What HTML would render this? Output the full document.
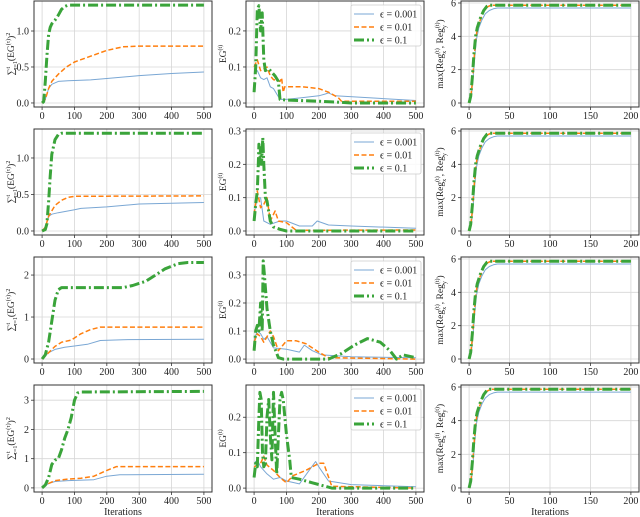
<!DOCTYPE html>
<html><head><meta charset="utf-8">
<style>
html,body{margin:0;padding:0;background:#fff;}
svg{display:block;font-family:"Liberation Serif",serif;}
</style></head>
<body>
<svg id="fig" width="640" height="517" viewBox="0 0 640 517" xmlns="http://www.w3.org/2000/svg"></svg>
<script>
// ---- data (x, y pairs) ----
const cumR1Green=[[0,0],[5,0.02],[10,0.3],[15,0.65],[20,0.95],[25,1.05],[30,1.1],[40,1.15],[50,1.22],[60,1.3],[70,1.34],[80,1.36],[500,1.36]];
const cumR1Orange=[[0,0],[10,0.05],[20,0.2],[30,0.3],[50,0.4],[75,0.5],[100,0.57],[150,0.65],[200,0.73],[250,0.78],[300,0.79],[500,0.79]];
const cumR1Blue=[[0,0],[10,0.05],[20,0.2],[30,0.26],[50,0.3],[80,0.31],[150,0.32],[200,0.34],[300,0.38],[400,0.41],[500,0.43]];
const egR1Green=[[0,0.03],[5,0.1],[10,0.26],[15,0.27],[20,0.2],[25,0.25],[30,0.12],[35,0.09],[45,0.095],[55,0.085],[65,0.075],[75,0.06],[80,0.01],[100,0.008],[200,0.005],[250,0.003],[300,0],[500,0]];
const egR1Orange=[[0,0.1],[10,0.12],[20,0.09],[30,0.095],[40,0.1],[50,0.075],[60,0.065],[80,0.06],[85,0.07],[90,0.03],[95,0.045],[150,0.045],[200,0.04],[230,0.03],[260,0.015],[270,0.005],[500,0.005]];
const egR1Blue=[[0,0.08],[10,0.09],[20,0.07],[30,0.065],[40,0.07],[50,0.045],[60,0.04],[80,0.01],[100,0.01],[150,0.015],[200,0.02],[220,0.025],[230,0.028],[250,0.02],[500,0.007]];

const cumR2Green=[[0,0],[10,0.02],[15,0.1],[20,0.4],[25,0.75],[30,1.05],[40,1.25],[50,1.32],[60,1.34],[500,1.34]];
const cumR2Orange=[[0,0],[10,0.05],[20,0.2],[40,0.35],[60,0.42],[80,0.46],[100,0.475],[500,0.48]];
const cumR2Blue=[[0,0],[10,0.05],[20,0.2],[30,0.23],[50,0.25],[100,0.29],[120,0.31],[200,0.33],[300,0.37],[400,0.38],[500,0.39]];
const egR2Green=[[0,0.03],[5,0.08],[10,0.12],[13,0.2],[15,0.26],[17,0.2],[20,0.25],[23,0.2],[27,0.28],[30,0.2],[35,0.1],[40,0.09],[50,0.03],[60,0.012],[80,0.005],[100,0],[500,0]];
const egR2Orange=[[0,0.05],[10,0.12],[20,0.07],[30,0.08],[40,0.1],[50,0.03],[65,0.06],[75,0.03],[100,0.025],[130,0.002],[500,0.003]];
const egR2Blue=[[0,0.05],[10,0.1],[20,0.1],[30,0.03],[50,0.02],[80,0.03],[100,0.03],[140,0.015],[180,0.015],[195,0.03],[230,0.018],[300,0.015],[500,0.008]];

const cumR3Green=[[0,0],[10,0.1],[20,0.4],[30,0.9],[40,1.4],[50,1.65],[60,1.7],[250,1.7],[280,1.75],[320,1.85],[350,2.0],[380,2.15],[420,2.27],[450,2.3],[500,2.3]];
const cumR3Orange=[[0,0],[20,0.15],[40,0.3],[60,0.4],[90,0.45],[120,0.6],[150,0.7],[180,0.76],[500,0.76]];
const cumR3Blue=[[0,0],[20,0.15],[40,0.23],[70,0.28],[100,0.31],[140,0.35],[180,0.44],[250,0.46],[500,0.47]];
const egR3Green=[[0,0.03],[5,0.1],[10,0.12],[15,0.1],[20,0.2],[25,0.1],[28,0.35],[32,0.3],[40,0.18],[50,0.1],[60,0.05],[75,0.005],[90,0],[230,0],[270,0.02],[310,0.05],[350,0.073],[390,0.06],[420,0.03],[440,0],[460,0.015],[500,0.005]];
const egR3Orange=[[0,0.06],[10,0.09],[20,0.08],[30,0.06],[50,0.1],[60,0.08],[75,0.03],[100,0.065],[130,0.065],[160,0.055],[200,0.025],[230,0.005],[500,0]];
const egR3Blue=[[0,0.07],[10,0.1],[20,0.09],[30,0.07],[40,0.08],[60,0.04],[100,0.035],[140,0.025],[155,0.05],[180,0.03],[210,0.015],[300,0.008],[500,0.005]];

const cumR4Green=[[0,0],[10,0.1],[20,0.35],[30,0.8],[40,0.95],[50,1.0],[60,1.3],[70,1.7],[80,2.0],[90,2.4],[100,3.0],[110,3.25],[120,3.28],[500,3.3]];
const cumR4Orange=[[0,0],[20,0.15],[40,0.25],[80,0.3],[120,0.33],[160,0.4],[200,0.6],[230,0.73],[500,0.73]];
const cumR4Blue=[[0,0],[20,0.15],[40,0.22],[80,0.25],[160,0.28],[200,0.4],[240,0.45],[500,0.47]];
const egR4Green=[[0,0.03],[5,0.07],[10,0.06],[15,0.2],[18,0.27],[22,0.25],[26,0.1],[30,0.06],[35,0.07],[40,0.2],[45,0.25],[50,0.15],[55,0.08],[60,0.27],[65,0.15],[70,0.04],[80,0.25],[85,0.27],[90,0.25],[100,0.15],[110,0.08],[115,0.03],[140,0.025],[180,0.015],[220,0.005],[240,0],[500,0]];
const egR4Orange=[[0,0.06],[10,0.065],[20,0.07],[30,0.09],[40,0.065],[60,0.05],[80,0.03],[100,0.015],[120,0.035],[160,0.05],[200,0.07],[215,0.07],[240,0.005],[500,0]];
const egR4Blue=[[0,0.07],[10,0.08],[20,0.06],[40,0.04],[60,0.025],[80,0.03],[100,0.02],[140,0.012],[170,0.05],[190,0.075],[200,0.06],[230,0.02],[300,0.01],[500,0.004]];

const regBlue=[[0,0],[3,0.5],[5,1.5],[7,2.8],[9,3.8],[12,4.5],[16,5.0],[20,5.35],[25,5.55],[30,5.65],[35,5.7],[200,5.7]];
const regOrange=[[0,0],[2,0.3],[4,1.2],[6,2.5],[8,3.8],[10,4.4],[14,5.0],[18,5.5],[22,5.75],[27,5.87],[200,5.87]];
const regGreen=[[0,0],[2,0.4],[4,1.5],[6,2.9],[8,4.0],[10,4.5],[14,5.1],[18,5.55],[22,5.8],[26,5.87],[200,5.87]];

const cumTicksR1=[0,0.5,1.0], cumTickLabelsR1=["0.0","0.5","1.0"];
const cumTicksR3=[0,1,2], cumTicksR4=[0,1,2,3];
const egTicks3=[0,0.1,0.2], egTicks4=[0,0.1,0.2,0.3];
const regTicks=[0,2,4,6];
const iterTicks500=[0,100,200,300,400,500];
const iterTicks200=[0,50,100,150,200];
const legendLabels=["\u03f5 = 0.001","\u03f5 = 0.01","\u03f5 = 0.1"];

// ---- layout ----
const NS="http://www.w3.org/2000/svg";
const svg=document.getElementById('fig');
const cols=[{l:34,r:212},{l:246,r:424},{l:461,r:639}];
const rows=[{t:1,b:107},{t:129,b:235},{t:257,b:363},{t:385,b:492}];
const styles={
 blue:{stroke:"#7aa7d4",w:1,dash:""},
 orange:{stroke:"#ff7f0e",w:1.5,dash:"5,2.5"},
 green:{stroke:"#3aa43a",w:3,dash:"10,3,2,3"}
};
function el(tag,attrs,parent){const e=document.createElementNS(NS,tag);for(const k in attrs)e.setAttribute(k,attrs[k]);(parent||svg).appendChild(e);return e;}

function panel(ri,ci,yd,xd,yt,ytl,xt,series,ylabelFn,name,legend){
 const c=cols[ci],r=rows[ri];
 const g=el('g',{});
 
 
 const sx=v=>c.l+(v-xd[0])/(xd[1]-xd[0])*(c.r-c.l);
 const sy=v=>r.b-(v-yd[0])/(yd[1]-yd[0])*(r.b-r.t);
 xt.forEach(v=>{const l=el('line',{x1:sx(v),x2:sx(v),y1:r.t,y2:r.b,stroke:"#d6d6d6","stroke-width":0.8},g);
  });
 yt.forEach(v=>{const l=el('line',{x1:c.l,x2:c.r,y1:sy(v),y2:sy(v),stroke:"#d6d6d6","stroke-width":0.8},g);
  });
 series.forEach(s=>{
  const st=styles[s.c];
  const d=s.d.map((p,i)=>(i?'L':'M')+sx(p[0]).toFixed(1)+','+sy(p[1]).toFixed(1)).join(' ');
  const p=el('path',{d:d,fill:"none",stroke:st.stroke,"stroke-width":st.w,"stroke-dasharray":st.dash,"stroke-linejoin":"round"},g);
  
  
 });
 const f=el('rect',{x:c.l,y:r.t,width:c.r-c.l,height:r.b-r.t,fill:"none",stroke:"#333","stroke-width":1},g);
 
 xt.forEach(v=>{el('line',{x1:sx(v),x2:sx(v),y1:r.b,y2:r.b+3,stroke:"#333","stroke-width":0.8},g);
  const t=el('text',{x:sx(v),y:r.b+12,"font-size":10,"text-anchor":"middle",fill:"#222"},g);t.textContent=v;
  });
 yt.forEach((v,i)=>{el('line',{x1:c.l-3,x2:c.l,y1:sy(v),y2:sy(v),stroke:"#333","stroke-width":0.8},g);
  const t=el('text',{x:c.l-5,y:sy(v)+3.5,"font-size":10,"text-anchor":"end",fill:"#222"},g);t.textContent=ytl[i];
  });
 ylabelFn(g,c,r);
 if(legend){
  const lg=el('g',{},g);
  
  el('rect',{x:c.r-73,y:r.t+4,width:70,height:41,rx:2,fill:"#fff","fill-opacity":0.85,stroke:"#ccc","stroke-width":0.8},lg);
  ['blue','orange','green'].forEach((k,i)=>{
   const st=styles[k],yy=r.t+13+i*13;
   const ln=el('line',{x1:c.r-70,x2:c.r-50,y1:yy,y2:yy,stroke:st.stroke,"stroke-width":st.w,"stroke-dasharray":st.dash},lg);
   
   const t=el('text',{x:c.r-44,y:yy+3.5,"font-size":10,fill:"#222"},lg);t.textContent=legendLabels[i];
   
  });
 }
 if(ri===3){const t=el('text',{x:(c.l+c.r)/2,y:515,"font-size":10,"text-anchor":"middle",fill:"#222"},g);t.textContent="Iterations";
  }
}
function ylab(g,x,y,html,name){
 const t=el('text',{x:0,y:0,"font-size":9.5,"text-anchor":"middle",fill:"#222",transform:`translate(${x},${y}) rotate(-90)`},g);
 t.innerHTML=html;
 
}
const cumLabel=(g,c,r)=>ylab(g,14,(r.t+r.b)/2,'\u2211<tspan font-size="6" dy="-4">t</tspan><tspan font-size="6" dy="7" dx="-3">\u03c4=1</tspan><tspan dy="-3">(EG</tspan><tspan font-size="6" dy="-4">(\u03c4)</tspan><tspan dy="4">)</tspan><tspan font-size="6" dy="-4">2</tspan>','y-axis-title-cumulative');
const egLabel=(g,c,r)=>ylab(g,226,(r.t+r.b)/2,'EG<tspan font-size="6" dy="-4">(t)</tspan>','y-axis-title-eg');
const regLabel=(g,c,r)=>ylab(g,443,(r.t+r.b)/2,'max(Reg<tspan font-size="6" dy="3">x</tspan><tspan font-size="6" dy="-7" dx="-3">(t)</tspan><tspan dy="4">, Reg</tspan><tspan font-size="6" dy="3">y</tspan><tspan font-size="6" dy="-7" dx="-3">(t)</tspan><tspan dy="4">)</tspan>','y-axis-title-regret');

const XD500=[-25,525], XD200=[-10,210];
const cumData=[[cumR1Blue,cumR1Orange,cumR1Green],[cumR2Blue,cumR2Orange,cumR2Green],[cumR3Blue,cumR3Orange,cumR3Green],[cumR4Blue,cumR4Orange,cumR4Green]];
const egData=[[egR1Blue,egR1Orange,egR1Green],[egR2Blue,egR2Orange,egR2Green],[egR3Blue,egR3Orange,egR3Green],[egR4Blue,egR4Orange,egR4Green]];
const cumY=[[-0.056,1.417],[-0.055,1.397],[-0.095,2.43],[-0.14,3.52]];
const egY=[[-0.011,0.283],[-0.012,0.306],[-0.014,0.364],[-0.011,0.291]];
const cumT=[[cumTicksR1,cumTickLabelsR1],[cumTicksR1,cumTickLabelsR1],[cumTicksR3,["0","1","2"]],[cumTicksR4,["0","1","2","3"]]];
const egT=[egTicks3,egTicks4,egTicks4,egTicks3];
const fmt1=v=>v.toFixed(1);
for(let ri=0;ri<4;ri++){
 const mk=d=>[{c:'blue',d:d[0]},{c:'orange',d:d[1]},{c:'green',d:d[2]}];
 panel(ri,0,cumY[ri],XD500,cumT[ri][0],cumT[ri][1],iterTicks500,mk(cumData[ri]),cumLabel,'cumulative-eg-panel-'+(ri+1),false);
 panel(ri,1,egY[ri],XD500,egT[ri],egT[ri].map(fmt1),iterTicks500,mk(egData[ri]),egLabel,'eg-panel-'+(ri+1),true);
 panel(ri,2,[-0.24,6.12],XD200,regTicks,regTicks.map(String),iterTicks200,mk([regBlue,regOrange,regGreen]),regLabel,'regret-panel-'+(ri+1),false);
}
</script>
</body></html>
